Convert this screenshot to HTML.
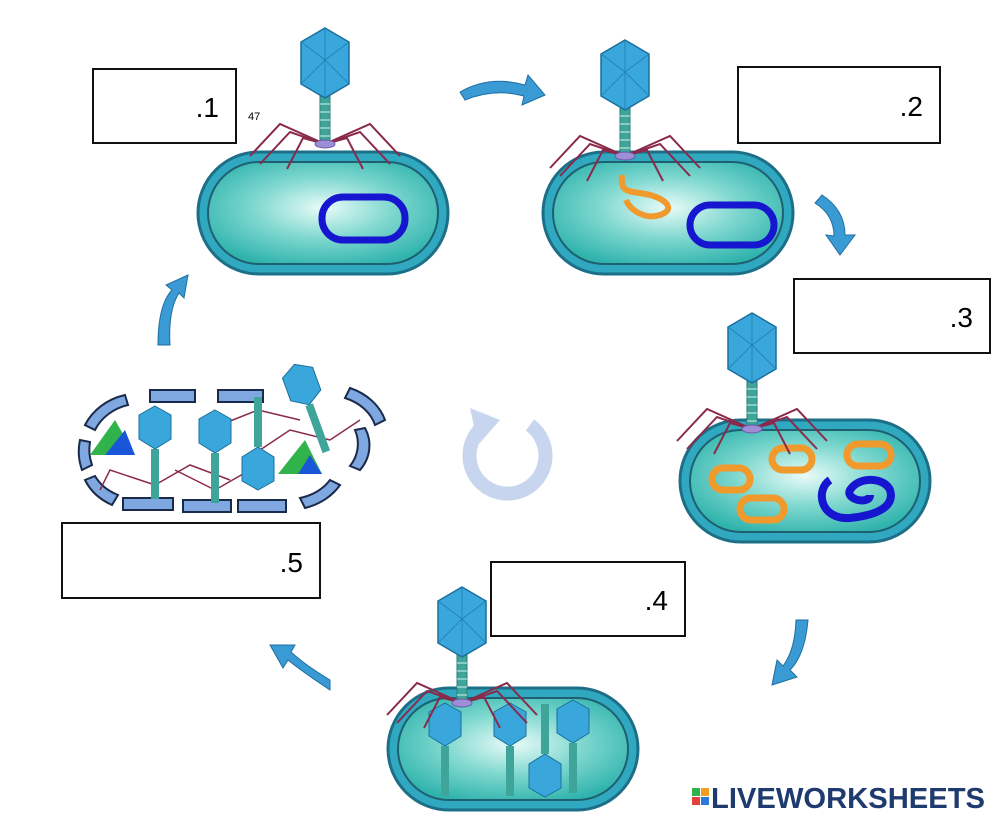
<!DOCTYPE html>
<html><head><meta charset="utf-8"><style>
body{margin:0;background:#fff;width:1000px;height:823px;overflow:hidden;position:relative;font-family:"Liberation Sans",sans-serif}
.box{position:absolute;border:2px solid #111;background:#fff;box-sizing:border-box;font-size:28px;text-align:right;padding-right:16px}
</style></head><body>
<svg width="1000" height="823" style="position:absolute;left:0;top:0">
<defs>
<radialGradient id="cg" cx="50%" cy="45%" r="60%"><stop offset="0" stop-color="#e9fbf8"/><stop offset="0.5" stop-color="#7fd8cf"/><stop offset="1" stop-color="#2fb3ad"/></radialGradient>
<g id="phage">
<g stroke="#8a2a4a" stroke-width="2" fill="none">
<polyline points="0,80 -35,68 -65,100"/><polyline points="0,80 -45,60 -75,92"/><polyline points="0,80 -22,74 -38,105"/>
<polyline points="0,80 35,68 65,100"/><polyline points="0,80 45,60 75,92"/><polyline points="0,80 22,74 38,105"/>
</g>
<rect x="-5" y="32" width="10" height="48" fill="#3fa59a" stroke="#2b7a72"/>
<g stroke="#9fd8d0" stroke-width="1.5"><line x1="-5" y1="40" x2="5" y2="40"/><line x1="-5" y1="48" x2="5" y2="48"/><line x1="-5" y1="56" x2="5" y2="56"/><line x1="-5" y1="64" x2="5" y2="64"/><line x1="-5" y1="72" x2="5" y2="72"/></g>
<ellipse cx="0" cy="80" rx="10" ry="4" fill="#9d8ed6" stroke="#6a5aa8"/>
<polygon points="0,-36 24,-22 24,20 0,34 -24,20 -24,-22" fill="#3aa7dc" stroke="#1a6f9c" stroke-width="1.5"/>
<g stroke="#1f7fb0" stroke-width="0.8" fill="none"><polyline points="-24,-22 0,-4 24,-22"/><line x1="0" y1="-4" x2="0" y2="34"/><line x1="0" y1="-36" x2="0" y2="-4"/><polyline points="-24,20 0,-4 24,20"/></g>
</g>
<g id="cell">
<rect x="0" y="0" width="250" height="122" rx="61" fill="#2fa8c0" stroke="#1d6f88" stroke-width="3"/>
<rect x="10" y="10" width="230" height="102" rx="51" fill="url(#cg)" stroke="#1f6070" stroke-width="2"/>
</g>
<g id="mini"><polygon points="0,-22 16,-13 16,11 0,21 -16,11 -16,-13" fill="#3aa7dc" stroke="#1a6f9c"/><rect x="-4" y="21" width="8" height="50" fill="#3fa59a"/></g>
</defs>
<use href="#cell" transform="translate(198,152)"/>
<rect x="322" y="197" width="83" height="43" rx="21" fill="none" stroke="#1616d0" stroke-width="7"/>
<use href="#phage" transform="translate(325,64)"/>
<use href="#cell" transform="translate(543,152)"/>
<rect x="690" y="205" width="84" height="40" rx="20" fill="none" stroke="#1616d0" stroke-width="7"/>
<path d="M622,175 C620,195 630,190 650,195 C668,200 675,210 660,215 C645,220 630,210 626,200" fill="none" stroke="#f09a2e" stroke-width="6"/>
<use href="#phage" transform="translate(625,76)"/>
<use href="#cell" transform="translate(680,420)"/>
<g fill="none" stroke="#f09a2e" stroke-width="7">
<rect x="772" y="448" width="40" height="22" rx="11"/><rect x="847" y="444" width="44" height="22" rx="11"/>
<rect x="712" y="468" width="38" height="22" rx="11"/><rect x="740" y="498" width="44" height="22" rx="11"/>
</g>
<path d="M830,480 C815,490 820,520 850,518 C880,515 895,505 890,490 C885,478 860,475 850,490 C845,500 870,505 870,495" fill="none" stroke="#1616d0" stroke-width="8"/>
<use href="#phage" transform="translate(752,349)"/>
<use href="#cell" transform="translate(388,688)"/>
<use href="#mini" transform="translate(445,725)"/><use href="#mini" transform="translate(510,725)"/><use href="#mini" transform="translate(573,722)"/>
<use href="#mini" transform="translate(545,775) scale(1,-1)"/>
<use href="#phage" transform="translate(462,623)"/>
<g fill="#7fa7e0" stroke="#1a2a4a" stroke-width="2">
<rect x="150" y="390" width="45" height="12"/><rect x="218" y="390" width="45" height="12"/>
<rect x="123" y="498" width="50" height="12"/><rect x="183" y="500" width="48" height="12"/><rect x="238" y="500" width="48" height="12"/>
<path d="M85,425 A60,55 0 0 1 125,395 L128,405 A50,45 0 0 0 95,430 Z"/>
<path d="M80,440 L90,442 A45,45 0 0 0 92,465 L82,470 A55,55 0 0 1 80,440 Z"/>
<path d="M85,480 L95,476 A50,40 0 0 0 118,495 L112,505 A60,50 0 0 1 85,480 Z"/>
<path d="M350,388 A60,50 0 0 1 385,420 L375,425 A50,40 0 0 0 345,398 Z"/>
<path d="M355,430 L365,428 A45,40 0 0 1 360,470 L350,466 A35,35 0 0 0 355,430 Z"/>
<path d="M330,480 L340,485 A60,50 0 0 1 305,508 L300,498 A50,40 0 0 0 330,480 Z"/>
</g>
<polygon points="90,455 115,420 135,455" fill="#2fb34a"/><polygon points="105,455 125,430 135,455" fill="#1a57d8"/>
<polygon points="278,474 305,440 322,474" fill="#2fb34a"/><polygon points="298,474 310,455 322,474" fill="#1a57d8"/>
<g stroke="#8a2a4a" stroke-width="1.5" fill="none">
<polyline points="155,485 110,470 100,490"/><polyline points="155,485 190,465 230,480"/><polyline points="215,490 175,470"/><polyline points="215,490 250,470"/>
<polyline points="258,410 220,425"/><polyline points="258,410 300,420"/><polyline points="330,440 290,430 260,450"/><polyline points="330,440 360,420"/>
</g>
<use href="#mini" transform="translate(155,428)"/><use href="#mini" transform="translate(215,432)"/>
<use href="#mini" transform="translate(258,468) scale(1,-1)"/><use href="#mini" transform="translate(302,385) rotate(-20)"/>
<g fill="#3a9ad4" stroke="#1f6fa0" stroke-width="1">
<path d="M460,92 Q490,75 525,85 L528,75 L545,95 L522,105 L524,96 Q495,88 465,100 Z"/>
<path d="M822,195 Q845,210 845,235 L855,235 L840,255 L826,235 L834,236 Q834,215 815,203 Z"/>
<path d="M808,620 Q805,655 790,670 L797,677 L772,685 L777,660 L783,666 Q795,650 796,620 Z"/>
<path d="M330,690 Q300,670 288,660 L283,668 L270,645 L295,645 L291,652 Q305,665 330,680 Z"/>
<path d="M158,345 Q158,305 172,290 L166,285 L188,275 L184,298 L179,293 Q168,310 170,345 Z"/>
</g>
<path d="M485,425 A38,38 0 1 0 530,425" fill="none" stroke="#c7d6ee" stroke-width="14"/>
<polygon points="470,408 500,420 478,445" fill="#c7d6ee"/>
<text x="248" y="120" font-size="11" font-family="Liberation Sans">47</text>
<rect x="692" y="788" width="8" height="8" fill="#2fb34a"/><rect x="701" y="788" width="8" height="8" fill="#f0a020"/><rect x="692" y="797" width="8" height="8" fill="#e04040"/><rect x="701" y="797" width="8" height="8" fill="#2a7ad8"/>
<text x="711" y="808" font-size="29" font-weight="bold" fill="#1e3a6e" font-family="Liberation Sans" textLength="274" lengthAdjust="spacingAndGlyphs">LIVEWORKSHEETS</text>
</svg>
<div class="box" style="left:92px;top:68px;width:145px;height:76px;line-height:76px">.1</div>
<div class="box" style="left:737px;top:66px;width:204px;height:78px;line-height:78px">.2</div>
<div class="box" style="left:793px;top:278px;width:198px;height:76px;line-height:76px">.3</div>
<div class="box" style="left:490px;top:561px;width:196px;height:76px;line-height:76px">.4</div>
<div class="box" style="left:61px;top:522px;width:260px;height:77px;line-height:77px">.5</div>
</body></html>
